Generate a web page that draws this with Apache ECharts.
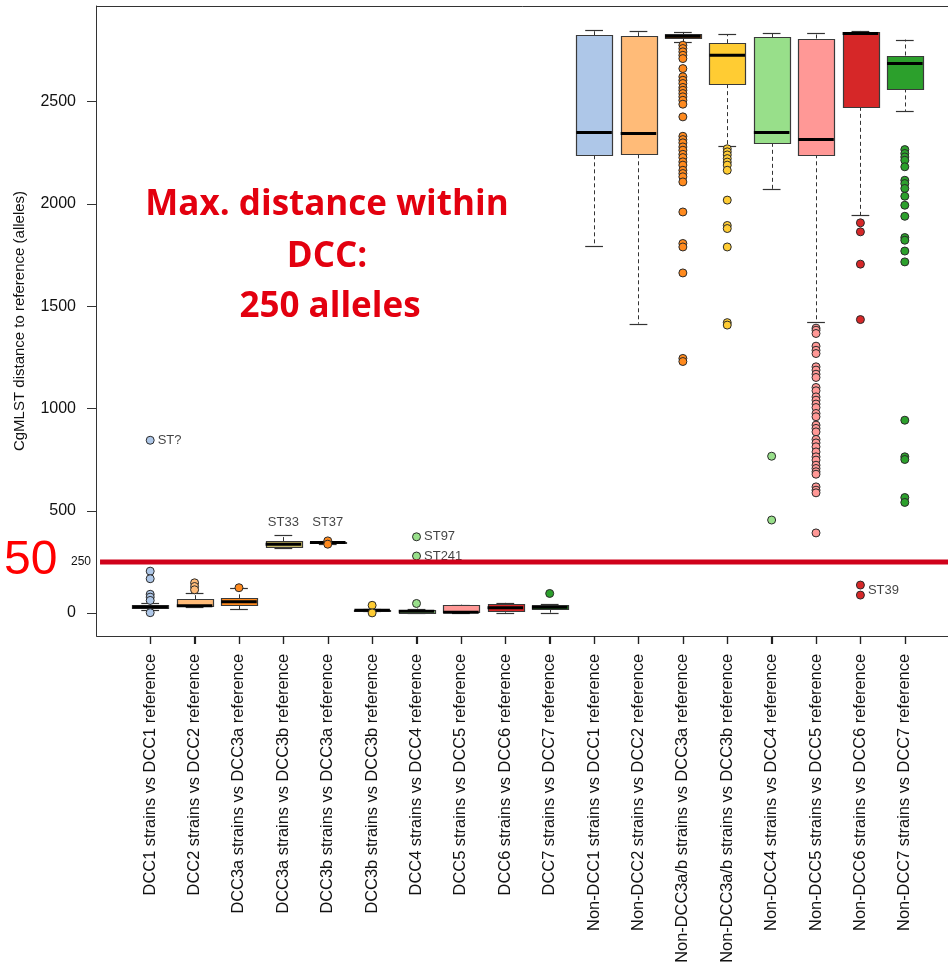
<!DOCTYPE html>
<html><head><meta charset="utf-8">
<script src="https://cdn.jsdelivr.net/npm/echarts@6/dist/echarts.min.js"></script>
<style>html,body{margin:0;padding:0;background:#fff}#c{width:948px;height:967px}</style>
</head><body><div id="c"></div>
<script>
const categories = [
  'DCC1 strains vs DCC1 reference',
  'DCC2 strains vs DCC2 reference',
  'DCC3a strains vs DCC3a reference',
  'DCC3a strains vs DCC3b reference',
  'DCC3b strains vs DCC3a reference',
  'DCC3b strains vs DCC3b reference',
  'DCC4 strains vs DCC4 reference',
  'DCC5 strains vs DCC5 reference',
  'DCC6 strains vs DCC6 reference',
  'DCC7 strains vs DCC7 reference',
  'Non-DCC1 strains vs DCC1 reference',
  'Non-DCC2 strains vs DCC2 reference',
  'Non-DCC3a/b strains vs DCC3a reference',
  'Non-DCC3a/b strains vs DCC3b reference',
  'Non-DCC4 strains vs DCC4 reference',
  'Non-DCC5 strains vs DCC5 reference',
  'Non-DCC6 strains vs DCC6 reference',
  'Non-DCC7 strains vs DCC7 reference'
];
const boxMin    = [15, 31, 18, 316, 340,  8,  2,  2,  2,  2, 1794, 1415, 2792, 2283, 2072, 1422, 1945, 2455];
const boxQ1     = [25, 34, 39, 324, 343, 12,  4,  2, 11, 18, 2238, 2243, 2809, 2586, 2299, 2243, 2475, 2565];
const boxMedian = [30, 36, 55, 336, 345, 14,  9,  4, 26, 28, 2349, 2345, 2820, 2727, 2349, 2315, 2833, 2687];
const boxQ3     = [38, 68, 72, 352, 347, 16, 17, 38, 45, 38, 2825, 2820, 2830, 2786, 2815, 2809, 2841, 2726];
const boxMax    = [47, 100, 121, 381, 350, 20, 22, 41, 50, 44, 2849, 2845, 2841, 2830, 2838, 2835, 2846, 2804];
const outliers = [
  [845, 205, 168, 92, 78, 62, 2],
  [148, 130, 114],
  [124],
  [],
  [353, 337],
  [38, 1],
  [373, 279, 47],
  [],
  [],
  [96],
  [],
  [],
  [2776, 2760, 2744, 2727, 2711, 2662, 2622, 2605, 2589, 2570, 2556, 2540, 2524, 2507, 2488, 2426, 2331, 2315, 2299, 2279, 2263, 2243, 2227, 2206, 2190, 2165, 2149, 2133, 2108, 1961, 1807, 1790, 1663, 1245, 1230],
  [2270, 2255, 2240, 2222, 2205, 2190, 2165, 2019, 1895, 1880, 1790, 1420, 1408],
  [767, 455],
  [1393, 1383, 1367, 1305, 1285, 1269, 1204, 1188, 1168, 1152, 1103, 1087, 1057, 1041, 1022, 1005, 976, 960, 919, 903, 886, 849, 832, 813, 788, 764, 748, 723, 707, 691, 679, 617, 601, 588, 392],
  [1908, 1864, 1706, 1435, 137, 88],
  [2266, 2247, 2230, 2214, 2182, 2116, 2100, 2076, 2038, 1994, 1940, 1836, 1823, 1770, 1717, 943, 764, 751, 565, 541]
];
const sideLabels  = [[0, 845, 'ST?'], [6, 373, 'ST97'], [6, 279, 'ST241'], [16, 112, 'ST39']];
const aboveLabels = [[3, 445, 'ST33'], [4, 445, 'ST37']];
const yTickValues = [0, 500, 1000, 1500, 2000, 2500];
const yMin = -112, yMax = 2968;
const thresholdValue = 250;
const thresholdTickLabel = '250';
const sideAnnotation = '50';
const titleLines = ['Max. distance within', 'DCC:', '250 alleles'];

const boxFill   = ['#AEC7E8','#FFBB78','#FF8A1E','#C4B766','#FF8A1E','#FFCC33','#98DF8A','#FF9896','#D62728','#2CA02C',
                   '#AEC7E8','#FFBB78','#B5601E','#FFCC33','#98DF8A','#FF9896','#D62728','#2CA02C'];
const pointFill = ['#AEC7E8','#FFBB78','#FF8A1E','#FFCC33','#FF8A1E','#FFCC33','#98DF8A','#FF9896','#D62728','#2CA02C',
                   '#AEC7E8','#FFBB78','#FF8A1E','#FFCC33','#98DF8A','#FF9896','#D62728','#2CA02C'];

const FONT = "'Liberation Sans', Arial, Helvetica, sans-serif";
const chart = echarts.init(document.getElementById('c'), null, {renderer: 'canvas'});

const boxData = categories.map((c, i) => [i, boxMin[i], boxQ1[i], boxMedian[i], boxQ3[i], boxMax[i]]);
const pointData = [];
outliers.forEach((arr, i) => arr.forEach(v => pointData.push({value: [i, v], itemStyle: {color: pointFill[i]}})));
const sideData = sideLabels.map(a => ({value: [a[0], a[1]], name: a[2]}));
const aboveData = aboveLabels.map(a => ({value: [a[0], a[1]], name: a[2]}));

function crisp(v) { return Math.round(v) + 0.5; }

const option = {
  animation: false,
  backgroundColor: '#fff',
  grid: {left: 128, right: 21, top: 6, bottom: 331, outerBoundsMode: 'none', containLabel: false},
  xAxis: {
    type: 'category', data: categories, boundaryGap: true, position: 'bottom',
    axisLine: {show: true, onZero: false, lineStyle: {color: '#333', width: 1}},
    axisTick: {show: true, alignWithLabel: true, interval: 0, inside: false, length: 8, lineStyle: {color: '#222', width: 1.2}},
    axisLabel: {rotate: 90, interval: 0, margin: 18, fontSize: 16.4, fontFamily: FONT, color: '#111'},
    splitLine: {show: false}
  },
  yAxis: {
    type: 'value', min: yMin, max: yMax, offset: 32,
    axisLine: {show: true, onZero: false, lineStyle: {color: '#333', width: 1}},
    axisTick: {show: true, length: 9, customValues: yTickValues, lineStyle: {color: '#333'}},
    axisLabel: {customValues: yTickValues, margin: 20, fontSize: 16, fontFamily: FONT, color: '#111',
                formatter: v => String(v)},
    splitLine: {show: false},
    name: 'CgMLST distance to reference (alleles)', nameLocation: 'middle', nameGap: 69, nameRotate: 90,
    nameTextStyle: {fontSize: 15, fontFamily: FONT, color: '#111'}
  },
  series: [
    {
      type: 'custom', data: boxData, z: 2, silent: true,
      encode: {x: 0, y: [1, 2, 3, 4, 5]},
      renderItem: function (params, api) {
        const i = api.value(0);
        const x = api.coord([i, api.value(3)])[0];
        const yLo = api.coord([i, api.value(1)])[1];
        const yQ1 = api.coord([i, api.value(2)])[1];
        const yMd = api.coord([i, api.value(3)])[1];
        const yQ3 = api.coord([i, api.value(4)])[1];
        const yHi = api.coord([i, api.value(5)])[1];
        const bw = api.size([1, 0])[0] * 0.8;
        const half = bw / 2, cap = bw / 4;
        const cx = crisp(x);
        const ln = '#333';
        return {
          type: 'group',
          children: [
            {type: 'line', shape: {x1: cx, y1: yQ3, x2: cx, y2: yHi}, style: {stroke: ln, lineWidth: 1, lineDash: [4, 3]}},
            {type: 'line', shape: {x1: cx, y1: yQ1, x2: cx, y2: yLo}, style: {stroke: ln, lineWidth: 1, lineDash: [4, 3]}},
            {type: 'line', shape: {x1: x - cap, y1: crisp(yHi), x2: x + cap, y2: crisp(yHi)}, style: {stroke: ln, lineWidth: 1.2}},
            {type: 'line', shape: {x1: x - cap, y1: crisp(yLo), x2: x + cap, y2: crisp(yLo)}, style: {stroke: ln, lineWidth: 1.2}},
            {type: 'rect', shape: {x: crisp(x - half), y: crisp(yQ3), width: Math.round(bw), height: Math.max(0, Math.round(yQ1 - yQ3))},
             style: {fill: boxFill[i], stroke: '#3a3a3a', lineWidth: 1.2}},
            {type: 'line', shape: {x1: x - half, y1: yMd, x2: x + half, y2: yMd}, style: {stroke: '#000', lineWidth: 3}}
          ]
        };
      }
    },
    {
      type: 'scatter', data: pointData, z: 3, silent: true,
      symbol: 'circle', symbolSize: 8,
      itemStyle: {borderColor: '#2a2a2a', borderWidth: 1, opacity: 1}
    },
    {
      type: 'scatter', data: sideData, z: 4, silent: true,
      symbolSize: 1, itemStyle: {color: 'rgba(0,0,0,0)'},
      label: {show: true, position: 'right', distance: 7, formatter: p => p.name,
              fontSize: 13, fontFamily: FONT, color: '#111'}
    },
    {
      type: 'scatter', data: aboveData, z: 4, silent: true,
      symbolSize: 1, itemStyle: {color: 'rgba(0,0,0,0)'},
      label: {show: true, position: 'inside', formatter: p => p.name,
              fontSize: 13, fontFamily: FONT, color: '#111'}
    }
  ]
};
chart.setOption(option);

const x0 = chart.convertToPixel({xAxisIndex: 0}, 0);
const x1 = chart.convertToPixel({xAxisIndex: 0}, 1);
const band = x1 - x0;
const xLast = chart.convertToPixel({xAxisIndex: 0}, categories.length - 1);
const frameLeft = x0 - 1.22 * band;
const frameRight = xLast + 1.22 * band;
const frameTop = chart.convertToPixel({yAxisIndex: 0}, yMax);
const frameBottom = chart.convertToPixel({yAxisIndex: 0}, yMin);
const yThr = chart.convertToPixel({yAxisIndex: 0}, thresholdValue);
const W = chart.getWidth();
const TITLE_FONT = "'Open Sans', sans-serif";

const xTicks = categories.map((c, i) => {
  const px = Math.round(x0 + band * i) + 0.5;
  return {type: 'line', id: 'xt' + i, silent: true, z: 50, zlevel: 0,
          shape: {x1: px, y1: Math.round(frameBottom), x2: px, y2: Math.round(frameBottom) + 8},
          style: {stroke: '#222', lineWidth: 1.2}};
});

chart.setOption({
  graphic: {elements: [
    {type: 'rect', id: 'frame', silent: true, z: 1,
     shape: {x: crisp(frameLeft), y: crisp(frameTop), width: Math.round(frameRight - frameLeft), height: Math.round(frameBottom - frameTop)},
     style: {fill: 'none', stroke: '#333', lineWidth: 1}},
    ...xTicks,
    {type: 'line', id: 'thr', silent: true, z: 10,
     shape: {x1: frameLeft + 4, y1: yThr, x2: W, y2: yThr},
     style: {stroke: '#D0021B', lineWidth: 5}},
    {type: 'text', id: 'thrLabel', silent: true, z: 10, x: frameLeft - 5, y: yThr,
     style: {text: thresholdTickLabel, align: 'right', verticalAlign: 'middle', fontSize: 12, fontFamily: FONT, fill: '#111'}},
    {type: 'text', id: 'side', silent: true, z: 10, x: 4, y: yThr - 1,
     style: {text: sideAnnotation, align: 'left', verticalAlign: 'middle', fontSize: 48, fontFamily: FONT, fill: '#FF0000'}},
    {type: 'text', id: 't1', silent: true, z: 10, x: 327, y: 205,
     style: {text: titleLines[0], align: 'center', verticalAlign: 'middle', fontSize: 35, fontWeight: 'bold', fontFamily: TITLE_FONT, fill: '#E3000F'}},
    {type: 'text', id: 't2', silent: true, z: 10, x: 327, y: 257,
     style: {text: titleLines[1], align: 'center', verticalAlign: 'middle', fontSize: 35, fontWeight: 'bold', fontFamily: TITLE_FONT, fill: '#E3000F'}},
    {type: 'text', id: 't3', silent: true, z: 10, x: 330, y: 307,
     style: {text: titleLines[2], align: 'center', verticalAlign: 'middle', fontSize: 35, fontWeight: 'bold', fontFamily: TITLE_FONT, fill: '#E3000F'}}
  ]}
});
</script>
</body></html>
